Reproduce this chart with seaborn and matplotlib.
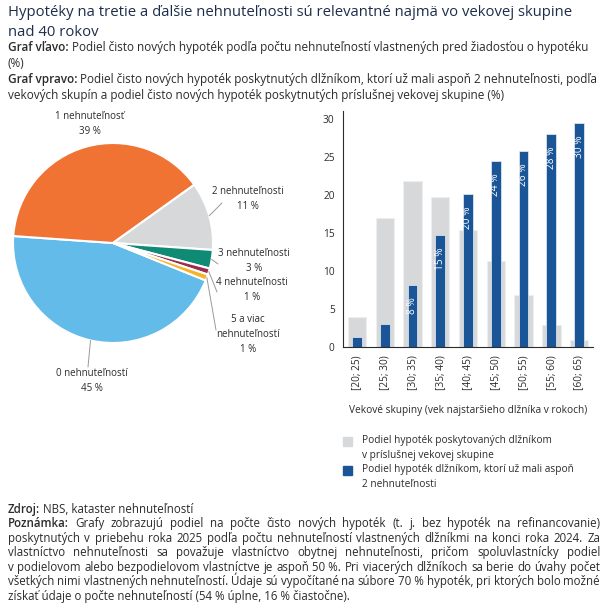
import matplotlib
matplotlib.use("Agg")
import matplotlib.pyplot as plt
from matplotlib.patches import Rectangle
import numpy as np
import seaborn as sns

# Left chart: share of new mortgages by number of properties owned before the application
pie_labels = ["0 nehnuteľností", "1 nehnuteľnosť", "2 nehnuteľnosti",
              "3 nehnuteľnosti", "4 nehnuteľnosti", "5 a viac\nnehnuteľností"]
pie_values = [45, 39, 11, 3, 1, 1]
pie_colors = ["#63bbe9", "#f07334", "#d6d8da", "#0f8a74", "#9c2b4e", "#f5b326"]

# Right chart: age groups
age_groups = ["[20; 25)", "[25; 30)", "[30; 35)", "[35; 40)", "[40; 45)",
              "[45; 50)", "[50; 55)", "[55; 60)", "[60; 65)"]
share_in_group = [3.9, 17.0, 21.9, 19.7, 15.4, 11.3, 6.9, 2.9, 0.9]
share_2plus = [1.3, 3.0, 8.2, 14.7, 20.1, 24.5, 25.8, 28.0, 29.5]

legend_labels = ["Podiel hypoték poskytovaných dlžníkom\nv príslušnej vekovej skupine",
                 "Podiel hypoték dlžníkom, ktorí už mali aspoň\n2 nehnuteľnosti"]

GRAY = "#d6d8da"
BLUE = "#1a5597"
TXT = "#2b2b2b"
TITLE_C = "#1e2d4a"
FS = 7.3        # chart text
FS_PIE = 7.0
FS_SUB = 8.45
FS_NOTE = 8.3
FS_TITLE = 10.7

sns.set_theme(style="white")
plt.rcParams["font.family"] = ["Open Sans", "DejaVu Sans"]

W, H = 606, 605
fig = plt.figure(figsize=(W / 100, H / 100), dpi=100)
renderer = fig.canvas.get_renderer()


def fx(px):
    return px / W


def fy(py):
    return 1 - py / H


def ext(s, weight, size):
    # ink width of a string in pixels
    t = fig.text(0, 0, s, size=size, weight=weight)
    w = t.get_window_extent(renderer).width
    t.remove()
    return w


def metrics(s, weight, size):
    # advance width and left ink offset relative to the pen position
    xx = ext("xx", weight, size)
    adv = ext("x" + s + "x", weight, size) - xx
    left = ext("x" + s, weight, size) - xx + ext("x", weight, size) - ext(s, weight, size)
    return adv, left


def put(x, y, s, size, weight="normal"):
    fig.text(fx(x), fy(y), s, size=size, weight=weight, color=TXT, va="baseline", ha="left")


def draw_line(y, head, rest, size, justify=False, x0=8, x1=600):
    base = y + 0.42 * size   # y is the visual middle of the line
    if not justify:
        x = x0
        if head:
            put(x, base, head, size, "semibold")
            x += metrics(head, "semibold", size)[0] + metrics(" ", "normal", size)[0]
        put(x, base, rest, size)
        return
    words = ([(head, "semibold")] if head else []) + [(w, "normal") for w in rest.split(" ")]
    m = [metrics(w, wt, size) for w, wt in words]
    gap = (x1 - x0 - sum(a for a, _ in m)) / (len(words) - 1)
    pen = x0
    for (w, wt), (adv, left) in zip(words, m):
        put(pen + left, base, w, size, wt)
        pen += adv + gap


# title + subtitle
fig.text(fx(8), fy(12 + 0.42 * FS_TITLE), "Hypotéky na tretie a ďalšie nehnuteľnosti sú relevantné najmä vo vekovej skupine",
         size=FS_TITLE, color=TITLE_C, va="baseline")
fig.text(fx(8), fy(32 + 0.42 * FS_TITLE), "nad 40 rokov", size=FS_TITLE, color=TITLE_C, va="baseline")
draw_line(47, "Graf vľavo:",
          "Podiel čisto nových hypoték podľa počtu nehnuteľností vlastnených pred žiadosťou o hypotéku", FS_SUB)
draw_line(63, None, "(%)", FS_SUB)
draw_line(79, "Graf vpravo:",
          "Podiel čisto nových hypoték poskytnutých dlžníkom, ktorí už mali aspoň 2 nehnuteľnosti, podľa", FS_SUB)
draw_line(95, None,
          "vekových skupín a podiel čisto nových hypoték poskytnutých príslušnej vekovej skupine (%)", FS_SUB)

# ---- pie ----
pax = fig.add_axes([0, fy(395), fx(300), 300 / H])
wedges, _ = pax.pie(pie_values, colors=pie_colors, startangle=-22, counterclock=False,
                    wedgeprops=dict(edgecolor="white", linewidth=1.5))
pax.set_xlim(-1.13, 1.87)
pax.set_ylim(-1.52, 1.48)
pax.set_aspect("equal")
pax.axis("off")

label_pos = [(-0.21, -1.38), (-0.23, 1.19), (1.35, 0.44), (1.41, -0.18), (1.39, -0.47), (1.35, -0.91)]
line_end = [(-0.25, -1.24), None, (1.09, 0.40), (1.05, -0.21), (1.04, -0.49), (1.03, -0.87)]
for w, lab, val, pos, end in zip(wedges, pie_labels, pie_values, label_pos, line_end):
    pax.text(pos[0], pos[1], f"{lab}\n{val} %", ha="center", va="center", size=FS_PIE,
             color=TXT, linespacing=1.5)
    if end is not None:
        ang = np.deg2rad((w.theta1 + w.theta2) / 2)
        pax.plot([np.cos(ang), end[0]], [np.sin(ang), end[1]], color="#999999", lw=0.7)

# ---- bars ----
bax = fig.add_axes([fx(343), fy(347), fx(593) - fx(343), (347 - 111.4) / H])
sns.barplot(x=age_groups, y=share_in_group, color=GRAY, saturation=1, width=0.66,
            edgecolor="#eceeef", linewidth=0.8, ax=bax)
sns.barplot(x=age_groups, y=share_2plus, color=BLUE, saturation=1, width=0.35,
            edgecolor="#e8eef5", linewidth=0.5, ax=bax)
bax.set_xlim(-0.5, len(age_groups) - 0.5)
bax.set_ylim(0, 31)
bax.set_yticks(range(0, 31, 5))
bax.set_xticks(range(len(age_groups)))
bax.set_xticklabels(age_groups, rotation=90)
bax.set_xticks(np.arange(-0.5, len(age_groups)), minor=True)
bax.tick_params(axis="x", which="major", length=0, pad=6, labelsize=FS, colors=TXT)
bax.tick_params(axis="x", which="minor", length=5, width=0.8, color=TXT, direction="out")
bax.tick_params(axis="y", length=3, width=0.8, labelsize=FS, colors=TXT, direction="out", pad=3)
bax.set_xlabel("")
bax.set_ylabel("")
for s in ["top", "right"]:
    bax.spines[s].set_visible(False)
for s in ["left", "bottom"]:
    bax.spines[s].set_color(TXT)
    bax.spines[s].set_linewidth(0.8)

for i, v in enumerate(share_2plus):
    if v >= 5:
        bax.text(i, v - 1.6, f"{round(v)} %", rotation=90, ha="center", va="top",
                 color="white", size=FS)

fig.text(fx(468), fy(411), "Vekové skupiny (vek najstaršieho dlžníka v rokoch)",
         ha="center", va="center", size=FS, color=TXT)

# legend drawn by hand so the swatch lines up with the first text line
for (ypx, col, lab) in [(441, GRAY, legend_labels[0]), (470, BLUE, legend_labels[1])]:
    fig.patches.append(Rectangle((fx(343), fy(ypx + 4.5)), fx(9), 9 / H, color=col,
                                 transform=fig.transFigure, figure=fig))
    fig.text(fx(362), fy(ypx - 6), lab, ha="left", va="top", size=FS, color=TXT, linespacing=1.45)

# ---- footer ----
draw_line(510, "Zdroj:", "NBS, kataster nehnuteľností", FS_NOTE)
note = [
    "Grafy zobrazujú podiel na počte čisto nových hypoték (t. j. bez hypoték na refinancovanie)",
    "poskytnutých v priebehu roka 2025 podľa počtu nehnuteľností vlastnených dlžníkmi na konci roka 2024. Za",
    "vlastníctvo nehnuteľnosti sa považuje vlastníctvo obytnej nehnuteľnosti, pričom spoluvlastnícky podiel",
    "v podielovom alebo bezpodielovom vlastníctve je aspoň 50\u00a0%. Pri viacerých dlžníkoch sa berie do úvahy počet",
    "všetkých nimi vlastnených nehnuteľností. Údaje sú vypočítané na súbore 70\u00a0% hypoték, pri ktorých bolo možné",
    "získať údaje o počte nehnuteľností (54\u00a0% úplne, 16\u00a0% čiastočne).",
]
for k, line in enumerate(note):
    draw_line(524 + k * 14.5, "Poznámka:" if k == 0 else None, line, FS_NOTE,
              justify=k < len(note) - 1)

fig.savefig("out.png", dpi=100)
